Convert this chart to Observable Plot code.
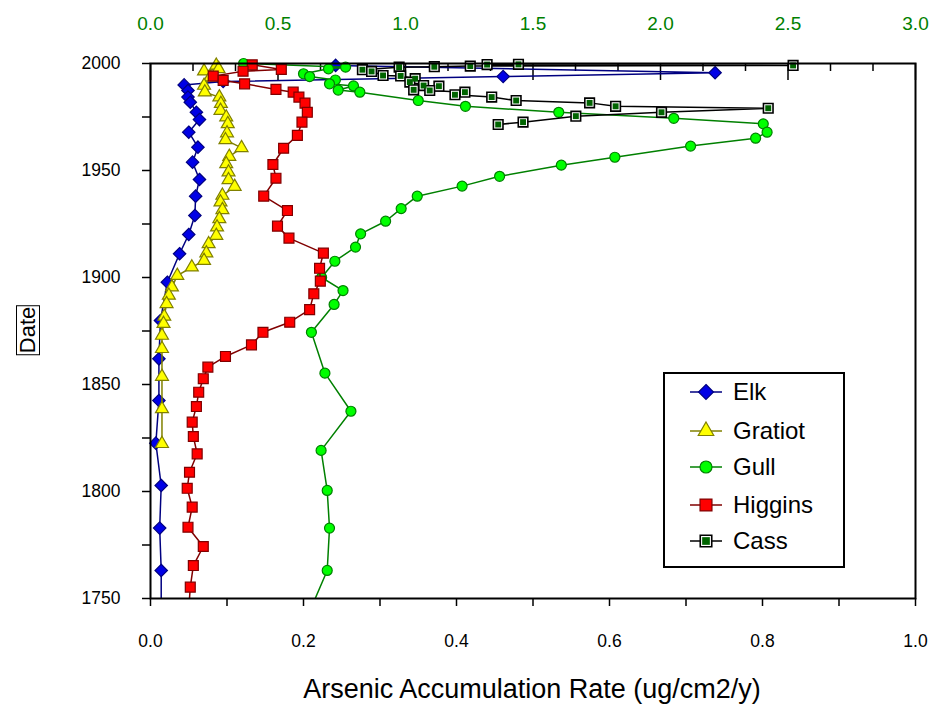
<!DOCTYPE html>
<html><head><meta charset="utf-8">
<script src="https://cdn.jsdelivr.net/npm/d3@7"></script>
<script src="https://cdn.jsdelivr.net/npm/@observablehq/plot@0.6"></script>
<style>
html,body{margin:0;padding:0;background:#fff;}
#wrap{position:relative;width:935px;height:704px;overflow:hidden;font-family:"Liberation Sans",Arial,sans-serif;color:#000;}
#chart{position:absolute;left:0;top:0;}
#xtitle{position:absolute;left:532px;top:689px;transform:translate(-50%,-50%);font-size:27px;white-space:nowrap;}
#ytitle{position:absolute;left:28px;top:330px;transform:translate(-50%,-50%) rotate(-90deg);font-size:22px;border:1px solid #000;line-height:1;padding:0 1px;}
#legend{position:absolute;left:663px;top:372px;width:178px;height:192px;border:2px solid #000;background:#fff;}
.row{position:absolute;left:0;height:30px;display:flex;align-items:center;}
.row svg{margin-left:25px;display:block;}
.row span{margin-left:11px;font-size:24px;}
</style></head><body>
<div id="wrap"><div id="chart"></div><div id="xtitle">Arsenic Accumulation Rate (ug/cm2/y)</div><div id="ytitle">Date</div><div id="legend"></div></div>
<script>
// ---- data ----
const elkYear = [1999.1, 1995.7, 1993.9, 1991.6, 1990.0, 1987.4, 1984.3, 1981.9, 1977.2, 1973.8, 1967.9, 1960.9, 1953.9, 1945.8, 1938.0, 1929.0, 1920.1, 1911.1, 1897.8, 1879.9, 1862.0, 1842.5, 1822.6, 1802.8, 1782.9, 1763.1, 1740];
const elkRate = [0.242, 0.738, 0.461, 0.095, 0.044, 0.049, 0.049, 0.052, 0.060, 0.064, 0.050, 0.062, 0.055, 0.064, 0.059, 0.058, 0.050, 0.038, 0.022, 0.013, 0.011, 0.011, 0.007, 0.014, 0.012, 0.014, 0.014];

const gratiotYear = [1999.1, 1997.5, 1996.4, 1993.6, 1989.7, 1986.6, 1984.3, 1981.2, 1978.0, 1974.9, 1971.8, 1967.5, 1964.3, 1960.6, 1956.5, 1953.1, 1949.2, 1945.6, 1942.5, 1938.3, 1935.2, 1931.6, 1927.4, 1923.5, 1919.6, 1915.7, 1911.4, 1907.9, 1904.8, 1900.9, 1895.5, 1891.6, 1887.7, 1881.8, 1878.4, 1872.9, 1866.7, 1853.7, 1838.6, 1822.3];
const gratiotRate = [0.086, 0.089, 0.070, 0.078, 0.070, 0.071, 0.090, 0.092, 0.0915, 0.099, 0.101, 0.100, 0.098, 0.119, 0.103, 0.099, 0.102, 0.102, 0.110, 0.094, 0.0915, 0.094, 0.090, 0.087, 0.086, 0.076, 0.073, 0.070, 0.054, 0.035, 0.028, 0.024, 0.021, 0.018, 0.017, 0.015, 0.015, 0.015, 0.015, 0.015];

// Gull is read against the top (green) axis
const gullYear = [2000.0, 1998.3, 1997.5, 1995.2, 1993.9, 1992.3, 1990.5, 1989.5, 1987.6, 1986.6, 1982.7, 1980.0, 1977.2, 1974.4, 1971.8, 1967.9, 1965.1, 1961.4, 1956.2, 1952.5, 1947.3, 1942.7, 1938.0, 1932.2, 1926.3, 1920.4, 1914.2, 1907.6, 1900.0, 1893.9, 1887.4, 1874.4, 1855.3, 1837.5, 1819.2, 1800.5, 1782.9, 1763.1, 1740];
const gullRate = [0.365, 0.765, 0.698, 0.600, 0.624, 0.725, 0.702, 0.796, 0.736, 0.821, 1.050, 1.235, 1.601, 2.052, 2.403, 2.418, 2.373, 2.118, 1.821, 1.611, 1.369, 1.222, 1.046, 0.983, 0.922, 0.824, 0.804, 0.723, 0.671, 0.755, 0.720, 0.631, 0.684, 0.786, 0.669, 0.693, 0.702, 0.693, 0.610];

const higginsYear = [1999.4, 1997.2, 1996.4, 1994.1, 1992.1, 1990.5, 1987.9, 1986.6, 1984.3, 1981.5, 1977.2, 1972.6, 1966.4, 1960.4, 1952.8, 1946.4, 1938.0, 1931.3, 1924.0, 1918.4, 1911.4, 1904.3, 1898.3, 1892.4, 1885.0, 1879.1, 1874.4, 1868.5, 1863.1, 1858.1, 1852.7, 1846.4, 1839.7, 1832.4, 1825.7, 1817.6, 1809.0, 1801.5, 1792.7, 1783.3, 1774.3, 1765.4, 1755.3, 1745];
const higginsRate = [0.133, 0.171, 0.121, 0.082, 0.095, 0.123, 0.164, 0.1865, 0.194, 0.202, 0.205, 0.198, 0.192, 0.174, 0.160, 0.164, 0.148, 0.179, 0.166, 0.181, 0.226, 0.221, 0.222, 0.2135, 0.208, 0.182, 0.147, 0.132, 0.098, 0.075, 0.069, 0.063, 0.060, 0.0545, 0.056, 0.061, 0.051, 0.048, 0.0545, 0.049, 0.069, 0.056, 0.052, 0.050];

const cassYear = [1999.6, 1999.5, 1999.1, 1998.8, 1998.5, 1998.3, 1997.1, 1996.3, 1994.4, 1994.2, 1992.9, 1991.3, 1989.7, 1989.4, 1987.7, 1987.4, 1986.6, 1985.4, 1984.3, 1982.7, 1981.6, 1980.0, 1979.1, 1977.2, 1975.4, 1972.6, 1971.5];
const cassRate = [0.481, 0.440, 0.840, 0.418, 0.371, 0.325, 0.277, 0.289, 0.304, 0.327, 0.346, 0.339, 0.357, 0.377, 0.344, 0.365, 0.411, 0.398, 0.446, 0.478, 0.574, 0.608, 0.8075, 0.668, 0.556, 0.487, 0.4545];

// axes
const yTickLabels = [1750, 1800, 1850, 1900, 1950, 2000];
const yMinorTicks = [1775, 1825, 1875, 1925, 1975];
const xTickLabels = [0.0, 0.2, 0.4, 0.6, 0.8, 1.0];
const xMinorTicks = [0.1, 0.3, 0.5, 0.7, 0.9];
const topTickLabels = [0.0, 0.5, 1.0, 1.5, 2.0, 2.5, 3.0];
const topMinorTicks = [1/6, 2/6, 4/6, 5/6, 7/6, 8/6, 10/6, 11/6, 13/6, 14/6, 16/6, 17/6];
const topPerBottom = 3; // top axis spans 0..3 where bottom spans 0..1

const seriesNames = ["Elk", "Gratiot", "Gull", "Higgins", "Cass"];

const W = 935, H = 704, mL = 150, mR = 20, mT = 63, mB = 106;
const plotH = H - mT - mB;

const series = [
  {name: "Elk", years: elkYear, rates: elkRate, k: 1, symbol: "diamond2", r: 5.6, fill: "#0000E6", stroke: "#000080", line: "#000080"},
  {name: "Gratiot", years: gratiotYear, rates: gratiotRate, k: 1, symbol: "triangle", r: 4.8, fill: "#FFFF00", stroke: "#808000", line: "#808000"},
  {name: "Gull", years: gullYear, rates: gullRate, k: 1 / topPerBottom, symbol: "circle", r: 5, fill: "#00FF00", stroke: "#008000", line: "#008000"},
  {name: "Higgins", years: higginsYear, rates: higginsRate, k: 1, symbol: "square", r: 5.6, fill: "#FF0000", stroke: "#800000", line: "#800000"},
  {name: "Cass", years: cassYear, rates: cassRate, k: 1, symbol: "square", r: 5.4, fill: "#006400", stroke: "#000000", line: "#000000", ring: true}
];

const marks = [];
for (const s of series) {
  const data = s.years.map((y, i) => ({year: y, x: s.rates[i] * s.k}));
  marks.push(Plot.line(data, {x: "x", y: "year", stroke: s.line, strokeWidth: 1.5, clip: true}));
  const vis = data.filter(d => d.year >= 1750);
  if (s.ring) {
    marks.push(Plot.dot(vis, {x: "x", y: "year", symbol: "square", r: s.r, fill: "white", stroke: "black", strokeWidth: 1.6}));
    marks.push(Plot.dot(vis, {x: "x", y: "year", symbol: "square", r: s.r * 0.62, fill: s.fill}));
  } else {
    marks.push(Plot.dot(vis, {x: "x", y: "year", symbol: s.symbol, r: s.r, fill: s.fill, stroke: s.stroke, strokeWidth: 1.2}));
  }
}

const chart = Plot.plot({
  width: W, height: H,
  marginLeft: mL, marginRight: mR, marginTop: mT, marginBottom: mB,
  style: {fontFamily: "'Liberation Sans', Arial, sans-serif", background: "white", color: "black"},
  x: {domain: [0, 1]},
  y: {domain: [1750, 2000]},
  marks: [
    Plot.axisY({ticks: yMinorTicks, tickSize: 8, tickFormat: () => "", strokeWidth: 1.5, label: null}),
    Plot.axisY({ticks: yTickLabels, tickSize: 8, tickPadding: 22, tickFormat: d => String(d), fontSize: 17.5, strokeWidth: 1.5, label: null}),
    Plot.axisX({anchor: "bottom", ticks: xMinorTicks, tickSize: 8, tickFormat: () => "", strokeWidth: 1.5, label: null}),
    Plot.axisX({anchor: "bottom", ticks: xTickLabels, tickSize: 8, tickPadding: 28, tickFormat: d => d.toFixed(1), fontSize: 17.5, strokeWidth: 1.5, label: null}),
    Plot.axisX({anchor: "top", ticks: topTickLabels.map(t => t / topPerBottom), tickSize: 0, tickPadding: 34, tickFormat: d => (d * topPerBottom).toFixed(1), fontSize: 19, color: "#008000", fill: "#008000", label: null}),
    Plot.tickX(topTickLabels, {x: d => d / topPerBottom, stroke: "black", strokeWidth: 1.5, insetBottom: plotH - 17}),
    Plot.tickX(topMinorTicks, {x: d => d / topPerBottom, stroke: "black", strokeWidth: 1.5, insetBottom: plotH - 8}),
    ...marks,
    Plot.frame({stroke: "black", strokeWidth: 2})
  ]
});
document.getElementById("chart").appendChild(chart);

// legend
const legend = d3.select("#legend");
const rowCenters = [18, 57, 93, 131, 167];
series.forEach((s, i) => {
  const row = legend.append("div").attr("class", "row").style("top", (rowCenters[i] - 15) + "px");
  const svg = row.append("svg").attr("width", 32).attr("height", 30);
  svg.append("line").attr("x1", 0).attr("x2", 32).attr("y1", 15).attr("y2", 15).attr("stroke", s.line).attr("stroke-width", 1.5);
  const symMap = {diamond2: d3.symbolDiamond2, triangle: d3.symbolTriangle, circle: d3.symbolCircle, square: d3.symbolSquare};
  const rr = s.r * 1.2;
  if (s.ring) {
    svg.append("path").attr("d", d3.symbol(d3.symbolSquare, Math.PI * rr * rr)()).attr("transform", "translate(16,15)").attr("fill", "white").attr("stroke", "black").attr("stroke-width", 1.6);
    svg.append("path").attr("d", d3.symbol(d3.symbolSquare, Math.PI * rr * rr * 0.45)()).attr("transform", "translate(16,15)").attr("fill", s.fill);
  } else {
    svg.append("path").attr("d", d3.symbol(symMap[s.symbol], Math.PI * rr * rr)()).attr("transform", "translate(16,15)").attr("fill", s.fill).attr("stroke", s.stroke).attr("stroke-width", 1.2);
  }
  row.append("span").text(seriesNames[i]);
});
</script></body></html>
